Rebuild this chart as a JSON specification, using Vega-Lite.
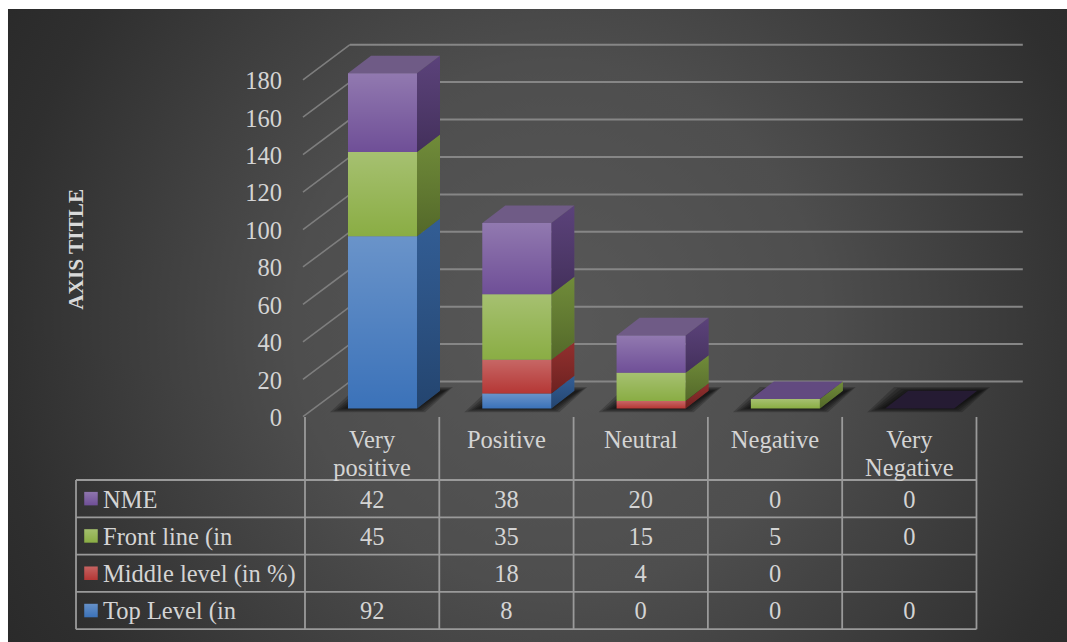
{
  "$schema": "https://vega.github.io/schema/vega-lite/v6.json",
  "description": "Stacked 3D-style columns of sentiment counts by staff level, with a data table below.",
  "width": 1067,
  "height": 642,
  "autosize": {"type": "fit", "contains": "padding"},
  "padding": 0,
  "background": "white",
  "config": {
    "view": {"stroke": null},
    "axis": {"disable": true},
    "legend": {"disable": true},
    "text": {"font": "Liberation Serif", "fontSize": 24.5, "color": "#d4d4d4"}
  },
  "datasets": {
    "ticks": [
      {"tick": 0}, {"tick": 20}, {"tick": 40}, {"tick": 60}, {"tick": 80},
      {"tick": 100}, {"tick": 120}, {"tick": 140}, {"tick": 160}, {"tick": 180}
    ],
    "tableRows": [
      {"line": 0}, {"line": 1}, {"line": 2}, {"line": 3}, {"line": 4}
    ],
    "tableCols": [
      {"col": 0}, {"col": 1}, {"col": 2}, {"col": 3}, {"col": 4}, {"col": 5}
    ]
  },
  "data": {
    "values": [
      {"category": "Very positive", "series": "Top Level (in", "value": 92},
      {"category": "Very positive", "series": "Middle level (in %)", "value": null},
      {"category": "Very positive", "series": "Front line (in", "value": 45},
      {"category": "Very positive", "series": "NME", "value": 42},
      {"category": "Positive", "series": "Top Level (in", "value": 8},
      {"category": "Positive", "series": "Middle level (in %)", "value": 18},
      {"category": "Positive", "series": "Front line (in", "value": 35},
      {"category": "Positive", "series": "NME", "value": 38},
      {"category": "Neutral", "series": "Top Level (in", "value": 0},
      {"category": "Neutral", "series": "Middle level (in %)", "value": 4},
      {"category": "Neutral", "series": "Front line (in", "value": 15},
      {"category": "Neutral", "series": "NME", "value": 20},
      {"category": "Negative", "series": "Top Level (in", "value": 0},
      {"category": "Negative", "series": "Middle level (in %)", "value": 0},
      {"category": "Negative", "series": "Front line (in", "value": 5},
      {"category": "Negative", "series": "NME", "value": 0},
      {"category": "Very Negative", "series": "Top Level (in", "value": 0},
      {"category": "Very Negative", "series": "Middle level (in %)", "value": null},
      {"category": "Very Negative", "series": "Front line (in", "value": 0},
      {"category": "Very Negative", "series": "NME", "value": 0}
    ]
  },
  "transform": [
    {"calculate": "indexof(['Very positive','Positive','Neutral','Negative','Very Negative'], datum.category)", "as": "slot"},
    {"calculate": "indexof(['Top Level (in','Middle level (in %)','Front line (in','NME'], datum.series)", "as": "order"},
    {"stack": "value", "groupby": ["category"], "sort": [{"field": "order", "order": "ascending"}], "as": ["y0", "y1"]},
    {"calculate": "datum.slot + 0.3202", "as": "xa"},
    {"calculate": "datum.xa + 0.5138", "as": "xb"},
    {"calculate": "3 - datum.order", "as": "row"}
  ],
  "layer": [
    {
      "layer": [
        {
          "data": {"values": [{"panel": "chart area"}]},
          "mark": {
            "type": "rect",
            "fill": {
              "gradient": "radial", "x1": 0.52, "y1": 0.5, "r1": 0, "x2": 0.52, "y2": 0.5, "r2": 0.62,
              "stops": [{"offset": 0, "color": "#585858"}, {"offset": 0.4, "color": "#4e4e4e"}, {"offset": 0.85, "color": "#2f2f2f"}, {"offset": 1, "color": "#292929"}]
            }
          },
          "encoding": {
            "x": {"datum": -2.2115, "type": "quantitative", "scale": {"domain": [-2.271, 5.674], "nice": false, "zero": false}},
            "x2": {"datum": 5.674},
            "y": {"datum": 213.4, "type": "quantitative", "scale": {"domain": [-124.8, 218.2], "nice": false, "zero": false}},
            "y2": {"datum": -124.8}
          }
        },
        {
          "data": {"name": "ticks"},
          "transform": [
            {"calculate": "datum.tick + 14.35", "as": "backLevel"}
          ],
          "mark": {"type": "rule", "stroke": "#868686", "strokeWidth": 2},
          "encoding": {
            "x": {"datum": 0.335, "type": "quantitative"},
            "x2": {"datum": 5.345},
            "y": {"field": "backLevel", "type": "quantitative"}
          }
        },
        {
          "data": {"name": "ticks"},
          "transform": [
            {"calculate": "[0, 1]", "as": "t"},
            {"flatten": ["t"]},
            {"calculate": "-0.015 + datum.t * 0.35", "as": "wallX"},
            {"calculate": "datum.tick - 4.43 + datum.t * 18.78", "as": "wallY"}
          ],
          "mark": {"type": "line", "stroke": "#7e7e7e", "strokeWidth": 1.6},
          "encoding": {
            "x": {"field": "wallX", "type": "quantitative"},
            "y": {"field": "wallY", "type": "quantitative"},
            "detail": {"field": "tick"}
          }
        },
        {
          "data": {"name": "ticks"},
          "transform": [
            {"calculate": "datum.tick - 5.7", "as": "labelY"}
          ],
          "mark": {"type": "text", "align": "right", "baseline": "middle"},
          "encoding": {
            "x": {"datum": -0.171, "type": "quantitative"},
            "y": {"field": "labelY", "type": "quantitative"},
            "text": {"field": "tick", "type": "quantitative"}
          }
        },
        {
          "data": {"values": [{"title": "AXIS TITLE"}]},
          "mark": {"type": "text", "angle": 270, "align": "center", "baseline": "middle", "fontWeight": "bold", "fontSize": 21.3, "color": "#d9d9d9"},
          "encoding": {
            "x": {"datum": -1.695, "type": "quantitative"},
            "y": {"datum": 85, "type": "quantitative"},
            "text": {"field": "title"}
          }
        },
        {
          "transform": [
            {"filter": "datum.order === 3"},
            {"calculate": "[0, 1, 2, 3, 4]", "as": "ring"},
            {"flatten": ["ring"]},
            {"calculate": "[0, 1]", "as": "t"},
            {"flatten": ["t"]},
            {"calculate": "datum.slot + (25 + 3.5 * datum.ring + datum.t * 27) / 134.3", "as": "shadowL"},
            {"calculate": "datum.slot + (120 - 2 * datum.ring + datum.t * 28) / 134.3", "as": "shadowR"},
            {"calculate": "(-2 + 0.5 * datum.ring) * (1 - datum.t) + (11.4 - 0.5 * datum.ring) * datum.t", "as": "shadowY"}
          ],
          "mark": {"type": "area", "orient": "horizontal", "fill": "#000000", "opacity": 0.2},
          "encoding": {
            "x": {"field": "shadowL", "type": "quantitative"},
            "x2": {"field": "shadowR"},
            "y": {"field": "shadowY", "type": "quantitative", "stack": null},
            "detail": [{"field": "category"}, {"field": "ring"}]
          }
        },
        {
          "transform": [
            {"calculate": "[0, 1]", "as": "t"},
            {"flatten": ["t"]},
            {"calculate": "datum.xb + datum.t * 0.1713", "as": "sideX"},
            {"calculate": "datum.y0 + datum.t * 9.4", "as": "sideLow"},
            {"calculate": "datum.y1 + datum.t * 9.4", "as": "sideHigh"}
          ],
          "layer": [
            {
              "mark": {"type": "area"},
              "encoding": {
                "x": {"field": "sideX", "type": "quantitative"},
                "y": {"field": "sideLow", "type": "quantitative", "stack": null},
                "y2": {"field": "sideHigh"},
                "detail": {"field": "category"},
                "color": {
                  "field": "series", "type": "nominal",
                  "scale": {
                    "domain": ["Top Level (in", "Middle level (in %)", "Front line (in", "NME"],
                    "range": ["#3b72b9", "#b53735", "#8aad44", "#6f4f97"]
                  }
                }
              }
            },
            {
              "mark": {
                "type": "area",
                "fill": {
                  "gradient": "linear", "x1": 0, "y1": 0, "x2": 0, "y2": 1,
                  "stops": [{"offset": 0, "color": "rgba(20,20,20,0.22)"}, {"offset": 1, "color": "rgba(0,0,0,0.4)"}]
                }
              },
              "encoding": {
                "x": {"field": "sideX", "type": "quantitative"},
                "y": {"field": "sideLow", "type": "quantitative", "stack": null},
                "y2": {"field": "sideHigh"},
                "detail": [{"field": "category"}, {"field": "series"}]
              }
            }
          ]
        },
        {
          "transform": [
            {"filter": "datum.order === 3"},
            {"calculate": "[0, 1]", "as": "t"},
            {"flatten": ["t"]},
            {"calculate": "datum.xa + datum.t * 0.1713", "as": "topL"},
            {"calculate": "datum.xb + datum.t * 0.1713", "as": "topR"},
            {"calculate": "datum.y1 + datum.t * 9.4", "as": "topY"}
          ],
          "mark": {"type": "area", "orient": "horizontal"},
          "encoding": {
            "x": {"field": "topL", "type": "quantitative"},
            "x2": {"field": "topR"},
            "y": {"field": "topY", "type": "quantitative", "stack": null},
            "detail": {"field": "category"},
            "fill": {
              "condition": [
                {"test": "datum.y1 === 0", "value": "#251b33"},
                {"test": "datum.y1 <= 5", "value": "#624a80"}
              ],
              "value": "#6f5b86"
            }
          }
        },
        {
          "mark": {"type": "rect"},
          "encoding": {
            "x": {"field": "xa", "type": "quantitative"},
            "x2": {"field": "xb"},
            "y": {"field": "y0", "type": "quantitative"},
            "y2": {"field": "y1"},
            "color": {"field": "series", "type": "nominal"}
          }
        },
        {
          "mark": {
            "type": "rect",
            "fill": {
              "gradient": "linear", "x1": 0, "y1": 0, "x2": 0, "y2": 1,
              "stops": [{"offset": 0, "color": "rgba(255,255,255,0.24)"}, {"offset": 1, "color": "rgba(255,255,255,0)"}]
            }
          },
          "encoding": {
            "x": {"field": "xa", "type": "quantitative"},
            "x2": {"field": "xb"},
            "y": {"field": "y1", "type": "quantitative"},
            "y2": {"field": "y0"}
          }
        }
      ]
    },
    {
      "layer": [
        {
          "data": {"name": "tableRows"},
          "mark": {"type": "rule", "stroke": "#9a9a9a", "strokeWidth": 1.8},
          "encoding": {
            "x": {"datum": -1.705, "type": "quantitative"},
            "x2": {"datum": 5},
            "y": {"field": "line", "type": "quantitative", "scale": {"domain": [-12.868, 4.343], "reverse": true, "nice": false, "zero": false}}
          }
        },
        {
          "data": {"name": "tableCols"},
          "mark": {"type": "rule", "stroke": "#9a9a9a", "strokeWidth": 1.8},
          "encoding": {
            "x": {"field": "col", "type": "quantitative"},
            "y": {"datum": -1.69, "type": "quantitative"},
            "y2": {"datum": 4}
          }
        },
        {
          "data": {"values": [{"edge": "row header"}]},
          "mark": {"type": "rule", "stroke": "#9a9a9a", "strokeWidth": 1.8},
          "encoding": {
            "x": {"datum": -1.705, "type": "quantitative"},
            "y": {"datum": 0, "type": "quantitative"},
            "y2": {"datum": 4}
          }
        },
        {
          "transform": [{"filter": "datum.order === 3"}, {"calculate": "datum.slot + 0.5", "as": "colCentre"}],
          "mark": {"type": "text", "align": "center", "baseline": "top", "lineBreak": " ", "lineHeight": 28},
          "encoding": {
            "x": {"field": "colCentre", "type": "quantitative"},
            "y": {"datum": -1.38, "type": "quantitative"},
            "text": {"field": "category"}
          }
        },
        {
          "transform": [
            {"filter": "isValid(datum.value)"},
            {"calculate": "datum.slot + 0.5", "as": "colCentre"},
            {"calculate": "datum.row + 0.55", "as": "rowCentre"}
          ],
          "mark": {"type": "text", "align": "center", "baseline": "middle"},
          "encoding": {
            "x": {"field": "colCentre", "type": "quantitative"},
            "y": {"field": "rowCentre", "type": "quantitative"},
            "text": {"field": "value", "type": "quantitative"}
          }
        },
        {
          "transform": [
            {"filter": "datum.slot === 0"},
            {"calculate": "datum.row + 0.5", "as": "rowCentre"}
          ],
          "layer": [
            {
              "mark": {"type": "point", "shape": "square", "filled": true, "size": 182, "opacity": 1},
              "encoding": {
                "x": {"datum": -1.5935, "type": "quantitative"},
                "y": {"field": "rowCentre", "type": "quantitative"},
                "color": {"field": "series", "type": "nominal"}
              }
            },
            {
              "mark": {
                "type": "point", "shape": "square", "size": 182, "opacity": 1, "strokeWidth": 0,
                "fill": {
                  "gradient": "linear", "x1": 0, "y1": 0, "x2": 0, "y2": 1,
                  "stops": [{"offset": 0, "color": "rgba(255,255,255,0.22)"}, {"offset": 1, "color": "rgba(255,255,255,0)"}]
                }
              },
              "encoding": {
                "x": {"datum": -1.5935, "type": "quantitative"},
                "y": {"field": "rowCentre", "type": "quantitative"}
              }
            },
            {
              "transform": [{"calculate": "datum.row + 0.55", "as": "rowText"}],
              "mark": {"type": "text", "align": "left", "baseline": "middle"},
              "encoding": {
                "x": {"datum": -1.504, "type": "quantitative"},
                "y": {"field": "rowText", "type": "quantitative"},
                "text": {"field": "series"}
              }
            }
          ]
        }
      ]
    }
  ],
  "resolve": {"scale": {"y": "independent"}}
}
